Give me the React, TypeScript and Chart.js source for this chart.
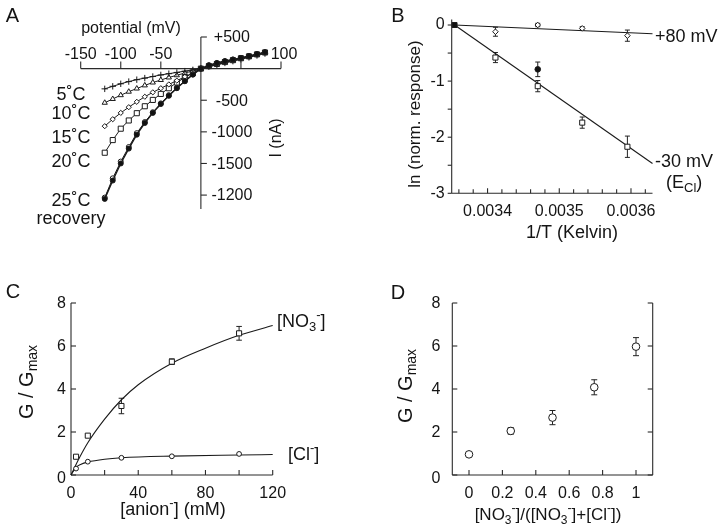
import React, { useEffect, useRef } from 'react';
import { Chart, registerables } from 'chart.js';

Chart.register(...registerables);

const W = 720;
const H = 529;
const FONT = '"Liberation Sans", Arial, Helvetica, sans-serif';
const INK = '#141414';
const AXIS = '#2a2a2a';

// ---------- Panel A : I-V curves ----------
const ivVoltage = [-120, -110, -100, -90, -80, -70, -60, -50, -40, -30, -20, -10, 0, 10, 20, 30, 40, 50, 60, 70, 80];
const iv5C = [-320, -280, -240, -205, -175, -150, -125, -100, -80, -60, -40, -20, 0, 30, 60, 90, 118, 148, 178, 208, 238];
const iv10C = [-540, -480, -420, -365, -315, -265, -220, -180, -140, -105, -70, -35, 0, 32, 64, 94, 124, 154, 184, 215, 248];
const iv15C = [-910, -800, -700, -610, -525, -445, -375, -310, -250, -190, -130, -65, 0, 35, 68, 99, 129, 160, 190, 222, 262];
const iv20C = [-1330, -1130, -950, -820, -705, -595, -495, -400, -310, -220, -140, -70, 0, 40, 74, 104, 134, 164, 194, 225, 255];
const iv25C = [-2060, -1770, -1500, -1265, -1045, -860, -700, -560, -430, -310, -200, -95, 0, 55, 90, 120, 145, 170, 200, 230, 260];
const ivRecovery = [-2040, -1735, -1470, -1240, -1020, -845, -690, -550, -420, -302, -195, -90, 0, 50, 85, 115, 142, 168, 198, 228, 258];
const ivXTicks = [-150, -100, -50, 50, 100];
const ivXTickLabels = ['-150', '-100', '-50', '', '100'];
const ivYTicks = [500, -500, -1000, -1500, -2000];
const ivYTickLabels = ['+500', '-500', '-1000', '-1500', '-1200'];
const ivTempLabels = ['5˚C', '10˚C', '15˚C', '20˚C', '25˚C', 'recovery'];

// ---------- Panel B : Arrhenius ----------
const invT = [0.003411, 0.00347, 0.003532, 0.003595];
const lnPlus80 = [-0.12, 0.0, -0.06, -0.19];
const errPlus80 = [0.08, 0.03, 0.03, 0.1];
const lnMinus30 = [-0.58, -1.09, -1.74, -2.17];
const errMinus30 = [0.09, 0.1, 0.1, 0.19];
const refInvT = [0.003354];
const refLn = [0];
const recInvT = [0.00347];
const recLn = [-0.79];
const recErr = [0.13];
const fitInvT = [0.003354, 0.00363];
const fitPlus80 = [0, -0.155];
const fitMinus30 = [0, -2.47];
const bXTicks = [0.00336, 0.00338, 0.0034, 0.00342, 0.00344, 0.00346, 0.00348, 0.0035, 0.00352, 0.00354, 0.00356, 0.00358, 0.0036, 0.00362];
const bXLabelTicks = [0.0034, 0.0035, 0.0036];
const bXLabels = ['0.0034', '0.0035', '0.0036'];
const bYTicks = [0, -0.5, -1, -1.5, -2, -2.5, -3];
const bYLabelTicks = [0, -1, -2, -3];
const bYLabels = ['0', '-1', '-2', '-3'];

// ---------- Panel C : concentration dependence ----------
const anionConc = [3, 10, 30, 60, 100];
const gNO3 = [0.85, 1.83, 3.21, 5.27, 6.59];
const errNO3 = [0, 0, 0.36, 0.13, 0.32];
const gCl = [0.3, 0.62, 0.8, 0.87, 0.98];
const fitNO3Conc = [0, 5, 10, 20, 30, 40, 60, 80, 100, 120];
const fitNO3 = [0, 0.8, 1.5, 2.6, 3.5, 4.2, 5.2, 5.9, 6.5, 6.95];
const fitClConc = [0, 3, 6, 10, 20, 30, 60, 100, 120];
const fitCl = [0, 0.35, 0.5, 0.6, 0.73, 0.8, 0.88, 0.93, 0.95];
const cXTicks = [20, 40, 60, 80, 100, 120];
const cXLabelTicks = [0, 40, 80, 120];
const cYTicks = [0, 2, 4, 6, 8];

// ---------- Panel D : mixtures ----------
const fracNO3 = [0, 0.25, 0.5, 0.75, 1];
const gMix = [0.96, 2.05, 2.67, 4.08, 5.97];
const errMix = [0.05, 0.15, 0.33, 0.35, 0.42];
const dXTicks = [0, 0.2, 0.4, 0.6, 0.8, 1];
const dXLabels = ['0', '0.2', '0.4', '0.6', '0.8', '1'];
const dYTicks = [0, 2, 4, 6, 8];

type Run = { t: string; s?: 'sub' | 'sup' };

function seg(ctx: CanvasRenderingContext2D, x1: number, y1: number, x2: number, y2: number) {
  ctx.beginPath();
  ctx.moveTo(x1, y1);
  ctx.lineTo(x2, y2);
  ctx.stroke();
}

function rich(ctx: CanvasRenderingContext2D, runs: Run[], x: number, y: number, size: number, align: 'left' | 'center' | 'right' = 'center', rotate = false) {
  ctx.save();
  ctx.translate(x, y);
  if (rotate) ctx.rotate(-Math.PI / 2);
  const small = Math.round(size * 0.72);
  const widths = runs.map((r) => {
    ctx.font = `${r.s ? small : size}px ${FONT}`;
    return ctx.measureText(r.t).width;
  });
  const total = widths.reduce((a, b) => a + b, 0);
  let cx = align === 'left' ? 0 : align === 'center' ? -total / 2 : -total;
  ctx.textBaseline = 'middle';
  ctx.textAlign = 'left';
  ctx.fillStyle = INK;
  runs.forEach((r, i) => {
    ctx.font = `${r.s ? small : size}px ${FONT}`;
    const dy = r.s === 'sub' ? size * 0.32 : r.s === 'sup' ? -size * 0.38 : 0;
    ctx.fillText(r.t, cx, dy);
    cx += widths[i];
  });
  ctx.restore();
}

function txt(ctx: CanvasRenderingContext2D, t: string, x: number, y: number, size: number, align: CanvasTextAlign = 'center') {
  ctx.save();
  ctx.font = `${size}px ${FONT}`;
  ctx.fillStyle = INK;
  ctx.textAlign = align;
  ctx.textBaseline = 'middle';
  ctx.fillText(t, x, y);
  ctx.restore();
}

function errorBars(c: any, xs: number[], ys: number[], errs: number[], cap: number) {
  const ctx = c.ctx as CanvasRenderingContext2D;
  const sx = c.scales.x;
  const sy = c.scales.y;
  ctx.save();
  ctx.strokeStyle = '#222';
  ctx.lineWidth = 1;
  xs.forEach((x, i) => {
    if (!errs[i]) return;
    const px = sx.getPixelForValue(x);
    const top = sy.getPixelForValue(ys[i] + errs[i]);
    const bot = sy.getPixelForValue(ys[i] - errs[i]);
    seg(ctx, px, top, px, bot);
    seg(ctx, px - cap, top, px + cap, top);
    seg(ctx, px - cap, bot, px + cap, bot);
  });
  ctx.restore();
}

const pts = (xs: number[], ys: number[]) => xs.map((x, i) => ({ x, y: ys[i] }));

function series(xs: number[], ys: number[], o: any) {
  return {
    data: pts(xs, ys),
    showLine: o.line ?? false,
    borderColor: '#1a1a1a',
    borderWidth: o.lw ?? 1,
    pointStyle: o.style ?? 'circle',
    pointRadius: o.r ?? 0,
    pointBackgroundColor: o.fill ?? '#ffffff',
    pointBorderColor: '#1a1a1a',
    pointBorderWidth: 1,
    cubicInterpolationMode: o.smooth ? 'monotone' : 'default',
    tension: 0,
    clip: false,
  };
}

type Area = { l: number; t: number; r: number; b: number };

function makeChart(canvas: HTMLCanvasElement, area: Area, xr: [number, number], yr: [number, number], datasets: any[], before: (c: any) => void, after: (c: any) => void) {
  return new Chart(canvas, {
    type: 'scatter',
    data: { datasets },
    options: {
      animation: false,
      responsive: false,
      devicePixelRatio: 1,
      events: [],
      layout: { padding: { left: area.l, top: area.t, right: W - area.r, bottom: H - area.b } },
      plugins: { legend: { display: false }, tooltip: { enabled: false }, title: { display: false } },
      scales: {
        x: { type: 'linear', display: false, min: xr[0], max: xr[1] },
        y: { type: 'linear', display: false, min: yr[0], max: yr[1] },
      },
    } as any,
    plugins: [
      {
        id: 'deco',
        beforeDatasetsDraw: (c: any) => before(c),
        afterDraw: (c: any) => after(c),
      },
    ],
  });
}

function axisStyle(ctx: CanvasRenderingContext2D) {
  ctx.strokeStyle = AXIS;
  ctx.lineWidth = 1.1;
}

// Panel A
function buildA(canvas: HTMLCanvasElement) {
  const ds = [
    series(ivVoltage, iv25C, { line: true, r: 2.5, fill: '#111', lw: 1.4 }),
    series(ivVoltage, ivRecovery, { line: true, r: 2.5, fill: '#fff' }),
    series(ivVoltage, iv5C, { line: true, r: 3.2, style: 'cross' }),
    series(ivVoltage, iv10C, { line: true, r: 3, style: 'triangle' }),
    series(ivVoltage, iv15C, { line: true, r: 2.6, style: 'rectRot' }),
    series(ivVoltage, iv20C, { line: true, r: 3.6, style: 'rect' }),
  ];
  const before = (c: any) => {
    const ctx = c.ctx as CanvasRenderingContext2D;
    const sx = c.scales.x;
    const sy = c.scales.y;
    const x0 = sx.getPixelForValue(0);
    const y0 = sy.getPixelForValue(0);
    ctx.save();
    axisStyle(ctx);
    seg(ctx, sx.getPixelForValue(-150), y0, sx.getPixelForValue(100), y0);
    seg(ctx, x0, sy.getPixelForValue(500), x0, sy.getPixelForValue(-2220));
    ivXTicks.forEach((v) => {
      const px = sx.getPixelForValue(v);
      seg(ctx, px, y0, px, y0 - 7);
    });
    ivYTicks.forEach((v) => {
      const py = sy.getPixelForValue(v);
      seg(ctx, x0, py, x0 + 6, py);
    });
    ctx.restore();
  };
  const after = (c: any) => {
    const ctx = c.ctx as CanvasRenderingContext2D;
    const sx = c.scales.x;
    const sy = c.scales.y;
    const x0 = sx.getPixelForValue(0);
    const y0 = sy.getPixelForValue(0);
    ivXTicks.forEach((v, i) => {
      if (ivXTickLabels[i]) txt(ctx, ivXTickLabels[i], sx.getPixelForValue(v) + (v === 100 ? 3 : 0), y0 - 14, 16);
    });
    ivYTicks.forEach((v, i) => txt(ctx, ivYTickLabels[i], x0 + 31, sy.getPixelForValue(v) + 1, 16));
    txt(ctx, 'potential (mV)', 131, 29, 16);
    rich(ctx, [{ t: 'I (nA)' }], 277, 138, 16, 'center', true);
    const ly = [95, 114, 138, 162, 201, 219];
    ivTempLabels.forEach((t, i) => txt(ctx, t, 71, ly[i], 18));
    txt(ctx, 'A', 12.5, 16, 20);
  };
  return makeChart(canvas, { l: 80.7, t: 37, r: 281, b: 209 }, [-150, 100], [-2220, 500], ds, before, after);
}

// Panel B
function buildB(canvas: HTMLCanvasElement) {
  const ds = [
    series(refInvT, refLn, { r: 3.5, style: 'rect', fill: '#111' }),
    series(recInvT, recLn, { r: 2.8, fill: '#111' }),
    series(invT, lnPlus80, { r: 2.8, style: 'rectRot' }),
    series(invT, lnMinus30, { r: 3.6, style: 'rect' }),
    series(fitInvT, fitPlus80, { line: true, lw: 1.1 }),
    series(fitInvT, fitMinus30, { line: true, lw: 1.1 }),
  ];
  const before = (c: any) => {
    const ctx = c.ctx as CanvasRenderingContext2D;
    const sx = c.scales.x;
    const sy = c.scales.y;
    const xl = sx.getPixelForValue(0.00335);
    const xr = sx.getPixelForValue(0.00363);
    const yb = sy.getPixelForValue(-3);
    const yt = sy.getPixelForValue(0.1);
    ctx.save();
    axisStyle(ctx);
    seg(ctx, xl, yt, xl, yb);
    seg(ctx, xl, yb, xr, yb);
    bYTicks.forEach((v) => {
      const py = sy.getPixelForValue(v);
      seg(ctx, xl - 4, py, xl, py);
    });
    bXTicks.forEach((v) => {
      const px = sx.getPixelForValue(v);
      const major = bXLabelTicks.some((m) => Math.abs(m - v) < 1e-9);
      seg(ctx, px, yb, px, yb - (major ? 5 : 4));
    });
    ctx.restore();
    errorBars(c, invT, lnPlus80, errPlus80, 2.5);
    errorBars(c, invT, lnMinus30, errMinus30, 2.5);
    errorBars(c, recInvT, recLn, recErr, 2.5);
  };
  const after = (c: any) => {
    const ctx = c.ctx as CanvasRenderingContext2D;
    const sx = c.scales.x;
    const sy = c.scales.y;
    const xl = sx.getPixelForValue(0.00335);
    bYLabelTicks.forEach((v, i) => txt(ctx, bYLabels[i], xl - 7, sy.getPixelForValue(v), 16, 'right'));
    bXLabelTicks.forEach((v, i) => txt(ctx, bXLabels[i], sx.getPixelForValue(v), 212, 16));
    txt(ctx, '1/T (Kelvin)', 572, 233, 18);
    rich(ctx, [{ t: 'ln (norm. response)' }], 415, 114, 17, 'center', true);
    txt(ctx, '+80 mV', 655, 37, 18, 'left');
    txt(ctx, '-30 mV', 655, 162, 18, 'left');
    rich(ctx, [{ t: '(E' }, { t: 'Cl', s: 'sub' }, { t: ')' }], 666, 183, 18, 'left');
    txt(ctx, 'B', 398, 16, 20);
  };
  return makeChart(canvas, { l: 451.7, t: 19.4, r: 652.5, b: 193.3 }, [0.00335, 0.00363], [-3, 0.1], ds, before, after);
}

// Panel C
function buildC(canvas: HTMLCanvasElement) {
  const ds = [
    series(anionConc, gNO3, { r: 3.6, style: 'rect' }),
    series(anionConc, gCl, { r: 2.4 }),
    series(fitNO3Conc, fitNO3, { line: true, smooth: true, lw: 1.1 }),
    series(fitClConc, fitCl, { line: true, smooth: true, lw: 1.1 }),
  ];
  const before = (c: any) => {
    const ctx = c.ctx as CanvasRenderingContext2D;
    const sx = c.scales.x;
    const sy = c.scales.y;
    const xl = sx.getPixelForValue(0);
    const xr = sx.getPixelForValue(120);
    const yb = sy.getPixelForValue(0);
    const yt = sy.getPixelForValue(8);
    ctx.save();
    axisStyle(ctx);
    seg(ctx, xl, yt, xl, yb);
    seg(ctx, xl, yb, xr, yb);
    cYTicks.forEach((v) => {
      const py = sy.getPixelForValue(v);
      seg(ctx, xl, py, xl + 5, py);
    });
    cXTicks.forEach((v) => {
      const px = sx.getPixelForValue(v);
      seg(ctx, px, yb, px, yb - 5);
    });
    ctx.restore();
    errorBars(c, anionConc, gNO3, errNO3, 2.8);
  };
  const after = (c: any) => {
    const ctx = c.ctx as CanvasRenderingContext2D;
    const sx = c.scales.x;
    const sy = c.scales.y;
    const xl = sx.getPixelForValue(0);
    cYTicks.forEach((v) => txt(ctx, String(v), xl - 5, sy.getPixelForValue(v) + (v === 0 ? 4 : 1), 16, 'right'));
    cXLabelTicks.forEach((v) => txt(ctx, String(v), sx.getPixelForValue(v), 494, 16));
    rich(ctx, [{ t: '[anion' }, { t: '-', s: 'sup' }, { t: '] (mM)' }], 173, 510, 18);
    rich(ctx, [{ t: 'G / G' }, { t: 'max', s: 'sub' }], 27, 382, 20, 'center', true);
    rich(ctx, [{ t: '[NO' }, { t: '3', s: 'sub' }, { t: '-', s: 'sup' }, { t: ']' }], 277, 322, 18, 'left');
    rich(ctx, [{ t: '[Cl' }, { t: '-', s: 'sup' }, { t: ']' }], 288, 455, 18, 'left');
    txt(ctx, 'C', 13, 292, 20);
  };
  return makeChart(canvas, { l: 71, t: 303, r: 272.7, b: 475 }, [0, 120], [0, 8], ds, before, after);
}

// Panel D
function buildD(canvas: HTMLCanvasElement) {
  const ds = [series(fracNO3, gMix, { r: 3.8 })];
  const before = (c: any) => {
    const ctx = c.ctx as CanvasRenderingContext2D;
    const sx = c.scales.x;
    const sy = c.scales.y;
    const xl = sx.getPixelForValue(-0.1);
    const xr = sx.getPixelForValue(1.1);
    const yb = sy.getPixelForValue(0);
    const yt = sy.getPixelForValue(8);
    ctx.save();
    axisStyle(ctx);
    seg(ctx, xl, yt, xl, yb);
    seg(ctx, xr, yt, xr, yb);
    seg(ctx, xl, yb, xr, yb);
    dYTicks.forEach((v) => {
      const py = sy.getPixelForValue(v);
      seg(ctx, xl, py, xl + 5, py);
      seg(ctx, xr - 5, py, xr, py);
    });
    dXTicks.forEach((v) => {
      const px = sx.getPixelForValue(v);
      seg(ctx, px, yb, px, yb - 5);
    });
    ctx.restore();
    errorBars(c, fracNO3, gMix, errMix, 3);
  };
  const after = (c: any) => {
    const ctx = c.ctx as CanvasRenderingContext2D;
    const sx = c.scales.x;
    const sy = c.scales.y;
    const xl = sx.getPixelForValue(-0.1);
    dYTicks.forEach((v) => txt(ctx, String(v), xl - 12, sy.getPixelForValue(v) + (v === 0 ? 4 : 1), 16, 'right'));
    dXTicks.forEach((v, i) => txt(ctx, dXLabels[i], sx.getPixelForValue(v), 494, 16));
    rich(
      ctx,
      [
        { t: '[NO' }, { t: '3', s: 'sub' }, { t: '-', s: 'sup' }, { t: ']/([NO' }, { t: '3', s: 'sub' }, { t: '-', s: 'sup' },
        { t: ']+[Cl' }, { t: '-', s: 'sup' }, { t: '])' },
      ],
      548, 515, 17
    );
    rich(ctx, [{ t: 'G / G' }, { t: 'max', s: 'sub' }], 406, 386, 20, 'center', true);
    txt(ctx, 'D', 398, 293, 20);
  };
  return makeChart(canvas, { l: 452.3, t: 303, r: 652.7, b: 475 }, [-0.1, 1.1], [0, 8], ds, before, after);
}

export default function App() {
  const a = useRef<HTMLCanvasElement>(null);
  const b = useRef<HTMLCanvasElement>(null);
  const c = useRef<HTMLCanvasElement>(null);
  const d = useRef<HTMLCanvasElement>(null);

  useEffect(() => {
    document.body.style.margin = '0';
    document.body.style.background = '#ffffff';
    const charts = [buildA(a.current!), buildB(b.current!), buildC(c.current!), buildD(d.current!)];
    return () => charts.forEach((ch) => ch.destroy());
  }, []);

  const st: React.CSSProperties = { position: 'absolute', left: 0, top: 0, width: W, height: H };
  return (
    <div style={{ position: 'relative', width: W, height: H, background: '#fff', overflow: 'hidden' }}>
      <canvas ref={a} width={W} height={H} style={st} />
      <canvas ref={b} width={W} height={H} style={st} />
      <canvas ref={c} width={W} height={H} style={st} />
      <canvas ref={d} width={W} height={H} style={st} />
    </div>
  );
}
